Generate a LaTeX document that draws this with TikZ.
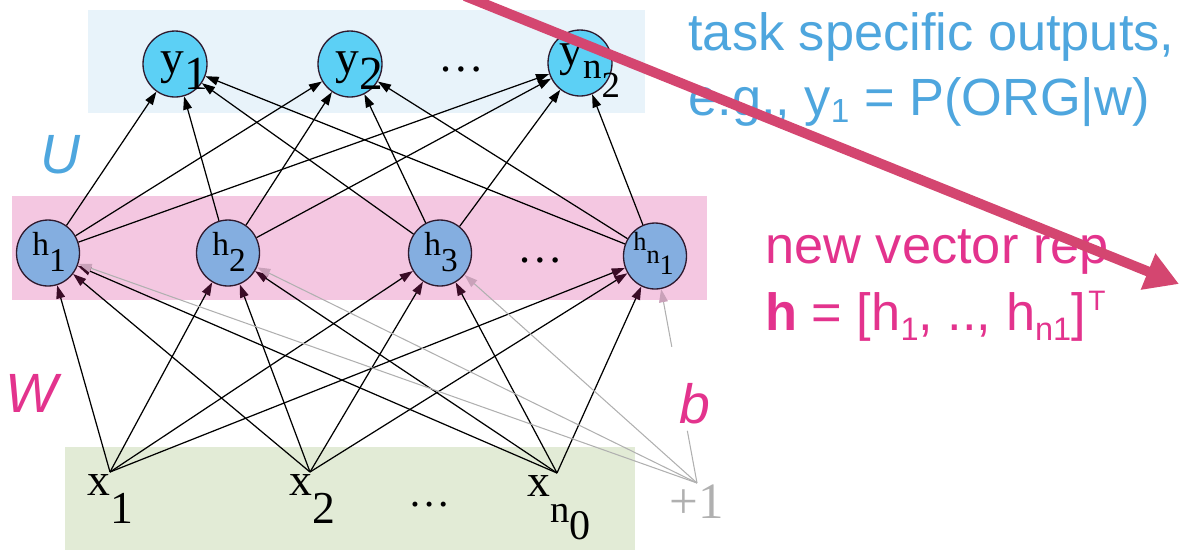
\documentclass[tikz,border=0pt]{standalone}
\usepackage{fontspec}
\setmainfont{Liberation Serif}
\newfontfamily\arialf{Liberation Sans}
\usetikzlibrary{arrows.meta,calc,shapes.geometric}
\definecolor{bgblue}{HTML}{E8F3FA}
\definecolor{bgpink}{HTML}{F4C7E1}
\definecolor{bggreen}{HTML}{E2EBD6}
\definecolor{yfill}{HTML}{5CD0F5}
\definecolor{hfill}{HTML}{84AEE0}
\definecolor{nodeline}{HTML}{2E1A2E}
\definecolor{txtblue}{HTML}{4EA6DE}
\definecolor{txtpink}{HTML}{E3338D}
\definecolor{bigarrow}{HTML}{D44670}
\definecolor{plusgray}{HTML}{B0B0B0}
\definecolor{tipgray}{HTML}{C9A1B9}
\definecolor{tipmaroon}{HTML}{3A0C26}
\newcommand\fs[1]{\fontsize{#1}{#1}\selectfont}
\newcommand\dn[2]{\raisebox{-#1}{#2}}
\begin{document}
\begin{tikzpicture}[x=0.02cm,y=-0.02cm,
  ynode/.style={ellipse,draw=nodeline,line width=0.75pt,fill=yfill,minimum width=1.28cm,minimum height=1.32cm,inner sep=0pt},
  hnode/.style={ellipse,draw=nodeline,line width=0.75pt,fill=hfill,minimum width=1.26cm,minimum height=1.32cm,inner sep=0pt},
  lbl/.style={anchor=base west,inner sep=0pt,text=black},
  uedge/.style={line width=0.7pt,black,-{Triangle[length=7.5pt,width=5pt]}},
  wedge/.style={line width=0.7pt,black,-{Triangle[length=7.5pt,width=5pt,color=tipmaroon]}},
  bline/.style={line width=0.6pt,plusgray},
  bedge/.style={line width=0.6pt,plusgray,-{Triangle[length=7.5pt,width=5pt,color=tipgray]}},
  sidetxt/.style={anchor=base west,inner sep=0pt,font=\arialf\fs{29.8pt}},
  biglbl/.style={anchor=base west,inner sep=0pt,font=\arialf\itshape\fs{31.5pt}}
]
\useasboundingbox (0,0) rectangle (1179,549);
% backgrounds
\fill[bgblue] (88,10) rectangle (645,113);
\fill[bgpink] (12,196) rectangle (707,300);
\fill[bggreen] (65,447) rectangle (635,552);

% output nodes
\node[ynode] (y1) at (175,64) {};
\node[ynode] (y2) at (350,64) {};
\node[ynode] (yn2) at (580,63) {};
\node[lbl] at ($(y1)+(-15,9)$) {\fs{27pt}y\dn{9.6pt}{1}};
\node[lbl] at ($(y2)+(-15,9)$) {\fs{27pt}y\dn{9.6pt}{2}};
\node[lbl] at ($(yn2)+(-21,2)$) {\fs{27pt}y\dn{7.4pt}{\fs{21pt}n\dn{11.3pt}{2}}};
\node[anchor=base,inner sep=0pt] (ydots) at (461,71) {\fs{26pt}…};

% hidden nodes
\node[hnode] (h1) at (48,253) {};
\node[hnode] (h2) at (228,253) {};
\node[hnode] (h3) at (440,253) {};
\node[hnode] (hn1) at (655,256) {};
\node[lbl] at ($(h1)+(-16,2)$) {\fs{19pt}h\dn{9.6pt}{1}};
\node[lbl] at ($(h2)+(-16,2)$) {\fs{19pt}h\dn{9.6pt}{2}};
\node[lbl] at ($(h3)+(-16,2)$) {\fs{19pt}h\dn{9.6pt}{3}};
\node[lbl] at ($(hn1)+(-22,-6)$) {\fs{15pt}h\dn{7.4pt}{n\dn{6.8pt}{\fs{16pt}1}}};
\node[anchor=base,inner sep=0pt] (hdots) at (540,262) {\fs{26pt}…};

% inputs
\coordinate (cx1) at (110,472);
\coordinate (cx2) at (310,472);
\coordinate (cxn) at (557,473);
\coordinate (cp) at (697,483);
\node[lbl] (x1) at (87,495) {\fs{26pt}x\dn{16pt}{1}};
\node[lbl] (x2) at (289,495) {\fs{26pt}x\dn{16pt}{2}};
\node[lbl] (xn0) at (527,496) {\fs{26pt}x\dn{15pt}{\fs{22pt}n\dn{10pt}{\fs{24pt}0}}};
\node[anchor=base,inner sep=0pt] (xdots) at (430,506) {\fs{24pt}…};
\node[lbl,text=plusgray] (plus) at (669,518) {\fs{29pt}+1};

% U edges
\foreach \h in {h1,h2,h3,hn1}{\foreach \y in {y1,y2,yn2}{\draw[uedge] (\h) -- (\y);}}
% W edges
\foreach \c in {cx1,cx2,cxn}{\foreach \h in {h1,h2,h3,hn1}{\draw[wedge] (\c) -- (\h);}}
% bias edges
\foreach \h in {h1,h2,h3}{\draw[bedge] (cp) -- (\h);}
\coordinate (gA) at ($(cp)!0.23!(hn1.center)$);
\coordinate (gB) at ($(cp)!0.60!(hn1.center)$);
\draw[bline] (cp) -- (gA);
\draw[bedge] (gB) -- (hn1);

% layer labels
\node[biglbl,text=txtblue] (U) at (40,173) {U};
\node[biglbl,text=txtpink] (W) at (5,412) {W};
\node[biglbl,text=txtpink] (b) at (679,423) {b};

% side text
\node[sidetxt,text=txtblue] (t1) at (688,50) {task specific outputs,};
\node[sidetxt,text=txtblue] (t2) at (688,115) {e.g., y\dn{4.5pt}{\fs{19pt}1} = P(ORG|w)};
\node[sidetxt,text=txtpink] (t3) at (765,263) {new vector rep};
\node[sidetxt,text=txtpink] (t4) at (765,330) {\textbf{h} = [h\dn{5.7pt}{\fs{18.5pt}1}, .., h\dn{5.7pt}{\fs{18.5pt}n1}]\kern1.5pt\raisebox{11.3pt}{\fs{16pt}T}};

% big arrow
\coordinate (bA) at (465,-4);
\coordinate (bB) at (1179,284);
\draw[bigarrow,line width=5.7pt,-{Triangle[length=19pt,width=21pt]}] (bA) -- (bB);
\end{tikzpicture}
\end{document}
